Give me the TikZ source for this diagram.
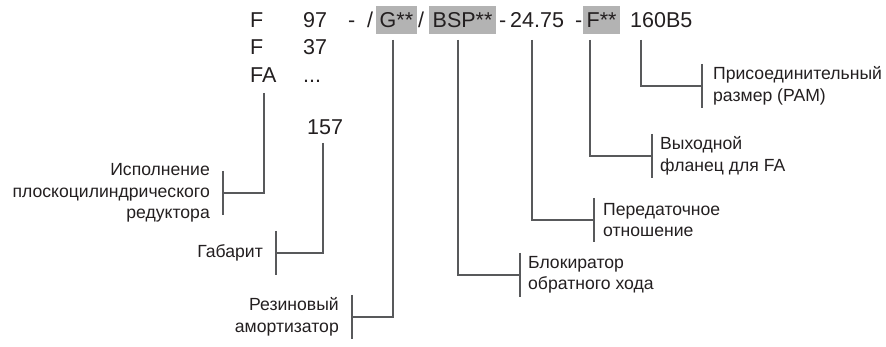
\documentclass[tikz,border=0pt]{standalone}
\usepackage{fontspec}
\setmainfont{Liberation Sans}
\usetikzlibrary{positioning}
\definecolor{ink}{HTML}{231F20}
\definecolor{wirecol}{HTML}{58595B}
\definecolor{shade}{HTML}{B3B3B3}
\tikzset{
    code/.style={text=ink, font=\fontsize{21.5}{25}\selectfont, inner sep=0, anchor=base west},
    hl/.style={style=code, fill=shade, inner xsep=3.5pt, inner ysep=6.5pt, text height=15.5pt, text depth=0pt}, % highlighted part of the code
    lab/.style={text=ink, font=\fontsize{17.6}{21.5}\selectfont, inner sep=0},
    lableft/.style={style=lab, align=right},
    labright/.style={style=lab, align=left},
    wire/.style={draw=wirecol, line width=2.6pt}, % connector
    tick/.style={draw=wirecol, line width=2.6pt} % bracket at a label
}

\begin{document}
\begin{tikzpicture}[x=1pt, y=-1pt]
  \useasboundingbox (0,0) rectangle (886,347);

  % type designation
  \node[code] (f1) at (250,28) {F};
  \node[code] (n97) at (303,28) {97};
  \node[code] (d1) at (348,28) {-};
  \node[code] (s1) at (367,28) {/};
  \node[hl] (g) at (376,28) {G**};
  \node[code] (s2) at (418,28) {/};
  \node[hl] (bsp) at (429,28) {BSP**};
  \node[code] (d2) at (499,28) {-};
  \node[code] (ratio) at (510,28) {24.75};
  \node[code] (d3) at (575,28) {-};
  \node[hl] (fl) at (583,28) {F**};
  \node[code] (pam) at (630,28) {160B5};
  \node[code] (f2) at (250,55) {F};
  \node[code] (n37) at (303,55) {37};
  \node[code] (fa) at (250,83) {FA};
  \node[code] (dots) at (303,83) {...};
  \node[code] (n157) at (307,135) {157};

  % line ends
  \coordinate (fatop) at (264,93);
  \coordinate (sztop) at (323,143);
  \coordinate (gtop) at (393,40);
  \coordinate (bsptop) at (458,40);
  \coordinate (ratiotop) at (532,40);
  \coordinate (fltop) at (590,40);
  \coordinate (pamtop) at (641,40);

  \coordinate (fabr) at (223,193);
  \coordinate (szbr) at (276,253);
  \coordinate (gbr) at (352,317);
  \coordinate (bspbr) at (520,275);
  \coordinate (ratiobr) at (594,220);
  \coordinate (flbr) at (652,156);
  \coordinate (pambr) at (702,86);

  % labels
  \node[lableft, left=13pt of fabr] (fatxt) {Исполнение\\плоскоцилиндрического\\редуктора};
  \node[lableft, left=13pt of szbr] (sztxt) {Габарит};
  \node[lableft, left=13pt of gbr] (gtxt) {Резиновый\\амортизатор};
  \node[labright, right=8pt of bspbr] (bsptxt) {Блокиратор\\обратного хода};
  \node[labright, right=9pt of ratiobr] (ratiotxt) {Передаточное\\отношение};
  \node[labright, right=8pt of flbr] (fltxt) {Выходной\\фланец для FA};
  \node[labright, right=11pt of pambr] (pamtxt) {Присоединительный\\размер (PAM)};

  % connectors
  \draw[wire] (fatop) |- (fabr);
  \draw[wire] (sztop) |- (szbr);
  \draw[wire] (gtop) |- (gbr);
  \draw[wire] (bsptop) |- (bspbr);
  \draw[wire] (ratiotop) |- (ratiobr);
  \draw[wire] (fltop) |- (flbr);
  \draw[wire] (pamtop) |- (pambr);

  % brackets
  \foreach \b in {fabr, szbr, gbr, bspbr, ratiobr, flbr, pambr}
    \draw[tick] ([yshift=22pt]\b) -- ([yshift=-22pt]\b);
\end{tikzpicture}
\end{document}
